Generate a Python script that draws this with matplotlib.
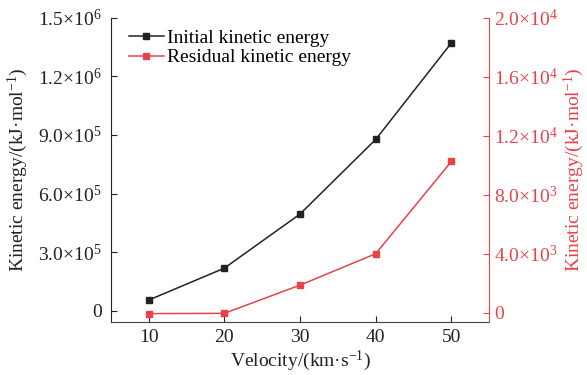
import matplotlib
matplotlib.use("Agg")
import matplotlib.pyplot as plt
from matplotlib.ticker import FixedLocator, FixedFormatter

plt.rcParams['font.family'] = ['Liberation Serif', 'DejaVu Serif']
plt.rcParams['mathtext.fontset'] = 'custom'
plt.rcParams['mathtext.rm'] = 'Liberation Serif'
plt.rcParams['mathtext.it'] = 'Liberation Serif'

velocity = [10, 20, 30, 40, 50]
initial_ke = [54600, 218000, 495000, 877000, 1371000]
residual_ke = [-60, -40, 1870, 4000, 10260]

left_ticks = [0, 3e5, 6e5, 9e5, 1.2e6, 1.5e6]
left_labels = ['0', r'3.0×10$^{5}$', r'6.0×10$^{5}$', r'9.0×10$^{5}$', r'1.2×10$^{6}$', r'1.5×10$^{6}$']
right_ticks = [0, 4e3, 8e3, 1.2e4, 1.6e4, 2.0e4]
right_labels = ['0', r'4.0×10$^{3}$', r'8.0×10$^{3}$', r'1.2×10$^{4}$', r'1.6×10$^{4}$', r'2.0×10$^{4}$']
x_ticks = [10, 20, 30, 40, 50]

black = '#222222'
red = '#e8434b'
fs = 14

fig = plt.figure(figsize=(5.87, 3.75), dpi=100)
ax = fig.add_axes([0.1886, 0.142, 0.8336 - 0.1886, 0.953 - 0.142])
ax2 = ax.twinx()

l1, = ax.plot(velocity, initial_ke, color=black, marker='s', markersize=5, lw=1.1,
              label='Initial kinetic energy')
l2, = ax2.plot(velocity, residual_ke, color=red, marker='s', markersize=5, lw=1.1,
               label='Residual kinetic energy')

ax.set_xlim(5, 55)
ax.set_ylim(-56000, 1.5e6)
ax2.set_ylim(-610, 2.0e4)

ax.xaxis.set_major_locator(FixedLocator(x_ticks))
ax.yaxis.set_major_locator(FixedLocator(left_ticks))
ax.yaxis.set_major_formatter(FixedFormatter(left_labels))
ax2.yaxis.set_major_locator(FixedLocator(right_ticks))
ax2.yaxis.set_major_formatter(FixedFormatter(right_labels))

for a in (ax, ax2):
    a.spines['top'].set_visible(False)
ax.spines['right'].set_visible(False)
ax2.spines['left'].set_visible(False)
ax2.spines['bottom'].set_visible(False)
ax2.spines['right'].set_color(red)
ax.spines['left'].set_color(black)
ax.spines['bottom'].set_color('#444444')

ax.tick_params(axis='y', direction='in', length=4, labelsize=fs, colors=black, pad=6.5)
ax.tick_params(axis='x', direction='in', length=4, labelsize=fs, colors=black, pad=5)
ax2.tick_params(axis='y', direction='in', length=4, labelsize=fs, colors=red, pad=3.5)

ax.set_xlabel('Velocity/(km·s$^{-1}$)', fontsize=fs, color=black, labelpad=2)
ax.set_ylabel('Kinetic energy/(kJ·mol$^{-1}$)', fontsize=fs, color=black, labelpad=6)
ax2.set_ylabel('Kinetic energy/(kJ·mol$^{-1}$)', fontsize=fs, color=red, labelpad=3)

ax.legend(handles=[l1, l2], loc='upper left', bbox_to_anchor=(0.017, 1.0), frameon=False,
          fontsize=fs, handlelength=1.8, handletextpad=0.15, labelspacing=0.1, borderaxespad=0.2)

fig.savefig('out.png', dpi=100)
